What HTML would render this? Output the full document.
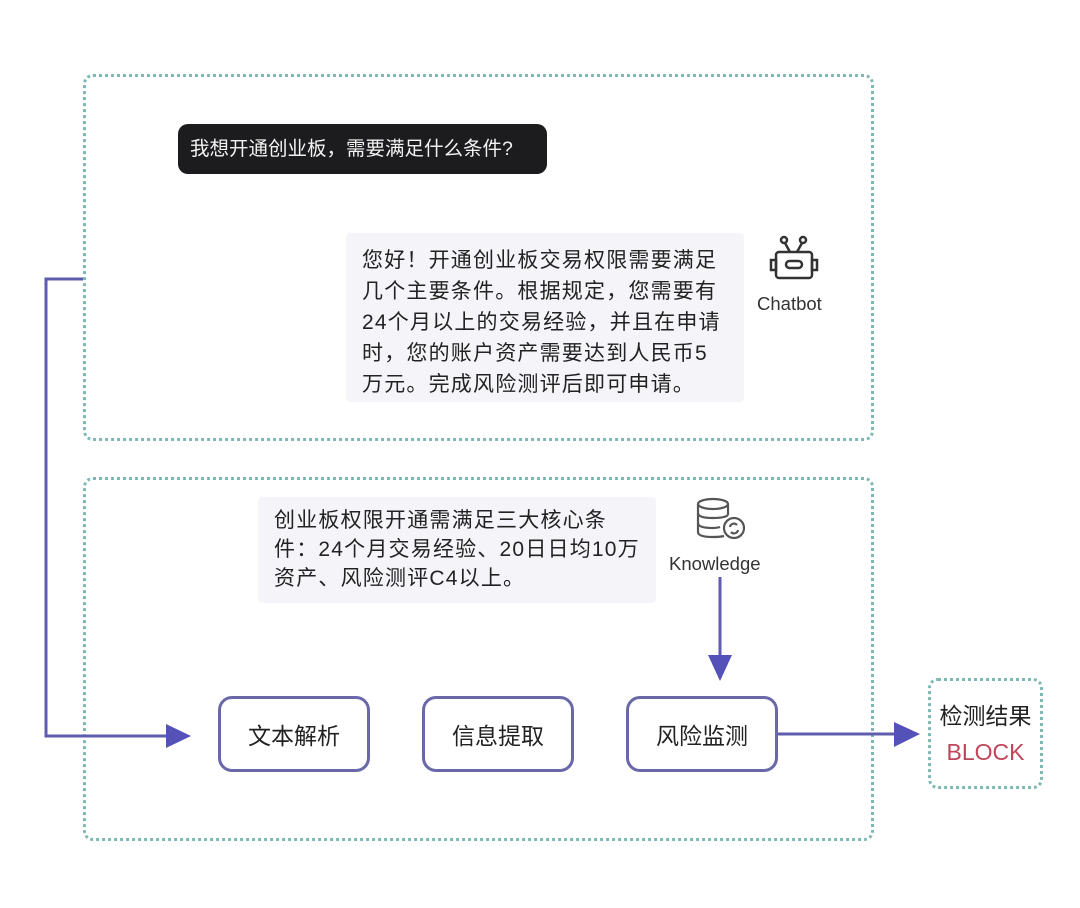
<!DOCTYPE html>
<html><head><meta charset="utf-8"><style>
body{margin:0;width:1080px;height:908px;background:#fff;position:relative;overflow:hidden;font-family:"Liberation Sans","Noto Sans CJK SC",sans-serif;}
.a{position:absolute;}
.box{position:absolute;border:3px dotted #7fb8b4;border-radius:10px;box-sizing:border-box;}
.node{position:absolute;border:3px solid #6a68a8;border-radius:14px;box-sizing:border-box;background:#fff;display:flex;align-items:center;justify-content:center;font-size:23px;color:#222;}
.bub{position:absolute;background:#f5f5f9;color:#222;font-size:21px;letter-spacing:1.2px;box-sizing:border-box;border-radius:4px;white-space:nowrap;}
</style></head><body>
<div class="box" style="left:83px;top:74px;width:791px;height:367px;"></div>
<div class="box" style="left:83px;top:477px;width:791px;height:364px;"></div>
<div class="a" style="left:178px;top:124px;width:369px;height:50px;background:#1c1c1e;border-radius:10px;color:#f2f2f2;font-size:19.5px;line-height:50px;padding-left:12px;box-sizing:border-box;white-space:nowrap;">我想开通创业板，需要满足什么条件?</div>
<div class="bub" style="left:346px;top:233px;width:398px;height:169px;padding:12px 0 0 16px;line-height:31px;">您好！开通创业板交易权限需要满足<br>几个主要条件。根据规定，您需要有<br>24个月以上的交易经验，并且在申请<br>时，您的账户资产需要达到人民币5<br>万元。完成风险测评后即可申请。</div>
<svg class="a" style="left:764px;top:230px" width="60" height="55" viewBox="0 0 60 55" fill="none" stroke="#333" stroke-width="2.5">
<circle cx="20" cy="10" r="3"/><circle cx="39" cy="10" r="3"/><path d="M21 13 L26 22 M38 13 L33 22"/>
<rect x="12" y="22" width="36" height="26" rx="3"/><rect x="7" y="30" width="5" height="10"/><rect x="48" y="30" width="5" height="10"/>
<rect x="22" y="31" width="16" height="7" rx="3.5"/></svg>
<div class="a" style="left:757px;top:293px;font-size:18.5px;color:#333;">Chatbot</div>
<div class="bub" style="left:258px;top:497px;width:398px;height:106px;padding:9px 0 0 16px;line-height:29px;">创业板权限开通需满足三大核心条<br>件：24个月交易经验、20日日均10万<br>资产、风险测评C4以上。</div>
<svg class="a" style="left:692px;top:495px" width="60" height="50" viewBox="0 0 60 50" fill="none" stroke="#555" stroke-width="2.2">
<ellipse cx="21" cy="9" rx="15" ry="5"/><path d="M6 9 V37 Q6 42 21 42 Q28 42 32 41 M36 9 V20"/><path d="M6 18 Q6 23 21 23 Q33 23 36 20 M6 28 Q6 33 21 33 Q25 33 28 32"/>
<circle cx="42" cy="33" r="10" fill="#fff"/><path d="M38 32 a4 4 0 0 1 7 -2 M46 35 a4 4 0 0 1 -7 2"/></svg>
<div class="a" style="left:669px;top:553px;font-size:18.5px;color:#333;">Knowledge</div>
<div class="node" style="left:218px;top:696px;width:152px;height:76px;">文本解析</div>
<div class="node" style="left:422px;top:696px;width:152px;height:76px;">信息提取</div>
<div class="node" style="left:626px;top:696px;width:152px;height:76px;">风险监测</div>
<div class="box" style="left:928px;top:678px;width:115px;height:111px;display:flex;flex-direction:column;align-items:center;justify-content:center;">
<div style="font-size:23px;color:#222;line-height:36px;">检测结果</div>
<div style="font-size:23px;color:#c0455a;line-height:36px;">BLOCK</div></div>
<svg class="a" style="left:0;top:0" width="1080" height="908">
<g stroke="#5f5cae" stroke-width="3" fill="none">
<path d="M83 279 H46 V736 H168"/>
<path d="M720 577 V656"/>
<path d="M778 734 H896"/>
</g>
<g fill="#5451b8">
<path d="M166 724 L191 736 L166 748 Z"/>
<path d="M708 655 L732 655 L720 681 Z"/>
<path d="M894 722 L920 734 L894 747 Z"/>
</g></svg>
</body></html>
